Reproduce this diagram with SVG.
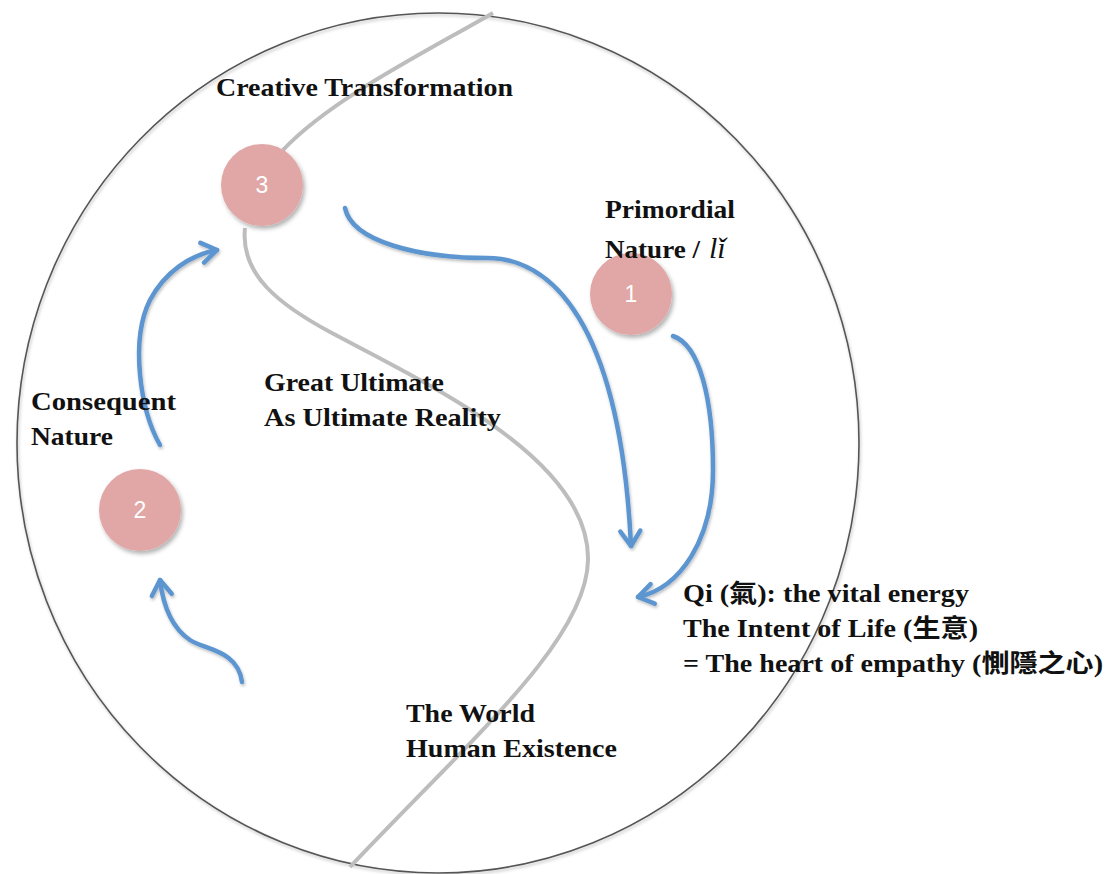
<svg xmlns="http://www.w3.org/2000/svg" width="1113" height="874" viewBox="0 0 1113 874">
<defs>
<filter id="sh" x="-20%" y="-20%" width="140%" height="140%">
<feDropShadow dx="2" dy="3" stdDeviation="2" flood-color="#000" flood-opacity="0.3"/>
</filter>
<filter id="shs" x="-20%" y="-20%" width="140%" height="140%">
<feDropShadow dx="1" dy="2" stdDeviation="1.5" flood-color="#000" flood-opacity="0.25"/>
</filter>
<marker id="ah" markerUnits="userSpaceOnUse" markerWidth="30" markerHeight="30" viewBox="-20 -15 30 30" refX="0" refY="0" orient="auto">
<path d="M-15,-10 L0,0 L-15,10" fill="none" stroke="#5B95D0" stroke-width="4.5" stroke-linecap="round" stroke-linejoin="round"/>
</marker>
</defs>
<style>
.lbl{font-family:"Liberation Serif","Noto Sans CJK TC",serif;font-weight:bold;font-size:25px;fill:#111}
.num{font-family:"Liberation Sans",Arial,sans-serif;font-size:23px;fill:#fff;text-anchor:middle}
.node{fill:#E1A7A6}
.arr{fill:none;stroke:#5B95D0;stroke-width:4.5;stroke-linecap:round;marker-end:url(#ah)}
.gray{fill:none;stroke:#BDBDBD;stroke-width:4}
</style>
<rect width="1113" height="874" fill="#fff"/>
<ellipse cx="438" cy="443" rx="421" ry="430" fill="none" stroke="#555" stroke-width="1.6" filter="url(#shs)"/>
<g id="divider">
<path class="gray" d="M493,13 C420,55 330,100 283,150"/>
<path class="gray" d="M245,228 C240,275 280,305 330,332 C430,385 590,460 588,560 C587,640 470,740 350,867"/>
</g>
<g id="connectors" filter="url(#shs)">
<path class="arr" d="M345,208 C352,242 420,258 487,258 C550,258 620,320 631,546"/>
<path class="arr" d="M673,336 C700,345 713,400 713,470 C713,540 680,588 638,597"/>
<path class="arr" d="M242,682 C238,650 205,650 190,640 C172,628 163,605 160,580"/>
<path class="arr" d="M160,445 C140,410 130,340 150,300 C165,272 190,255 217,250"/>
</g>
<g id="node3">
<circle class="node" cx="262" cy="185" r="41" filter="url(#sh)"/>
<text class="num" x="262" y="193">3</text>
</g>
<g id="node1">
<circle class="node" cx="631" cy="294" r="41" filter="url(#sh)"/>
<text class="num" x="631" y="302">1</text>
</g>
<g id="node2">
<circle class="node" cx="140" cy="510" r="41" filter="url(#sh)"/>
<text class="num" x="140" y="518">2</text>
</g>
<g id="label-creative">
<text class="lbl" x="216" y="96" textLength="297" lengthAdjust="spacingAndGlyphs">Creative Transformation</text>
</g>
<g id="label-primordial">
<text class="lbl" x="605" y="218" textLength="130" lengthAdjust="spacingAndGlyphs">Primordial</text>
<text class="lbl" x="605" y="258" textLength="95" lengthAdjust="spacingAndGlyphs">Nature /</text>
<text x="709" y="258" font-family="Liberation Serif,serif" font-style="italic" font-size="30" fill="#111">lǐ</text>
</g>
<g id="label-consequent">
<text class="lbl" x="31" y="410" textLength="145" lengthAdjust="spacingAndGlyphs">Consequent</text>
<text class="lbl" x="31" y="445" textLength="82" lengthAdjust="spacingAndGlyphs">Nature</text>
</g>
<g id="label-great">
<text class="lbl" x="264" y="391" textLength="180" lengthAdjust="spacingAndGlyphs">Great Ultimate</text>
<text class="lbl" x="264" y="426" textLength="237" lengthAdjust="spacingAndGlyphs">As Ultimate Reality</text>
</g>
<g id="label-world">
<text class="lbl" x="406" y="722" textLength="129" lengthAdjust="spacingAndGlyphs">The World</text>
<text class="lbl" x="406" y="757" textLength="211" lengthAdjust="spacingAndGlyphs">Human Existence</text>
</g>
<g id="label-qi">
<text class="lbl" x="683" y="602" textLength="286" lengthAdjust="spacingAndGlyphs">Qi (氣): the vital energy</text>
<text class="lbl" x="683" y="637" textLength="295" lengthAdjust="spacingAndGlyphs">The Intent of Life (生意)</text>
<text class="lbl" x="683" y="672" textLength="420" lengthAdjust="spacingAndGlyphs">= The heart of empathy (惻隱之心)</text>
</g>
</svg>
